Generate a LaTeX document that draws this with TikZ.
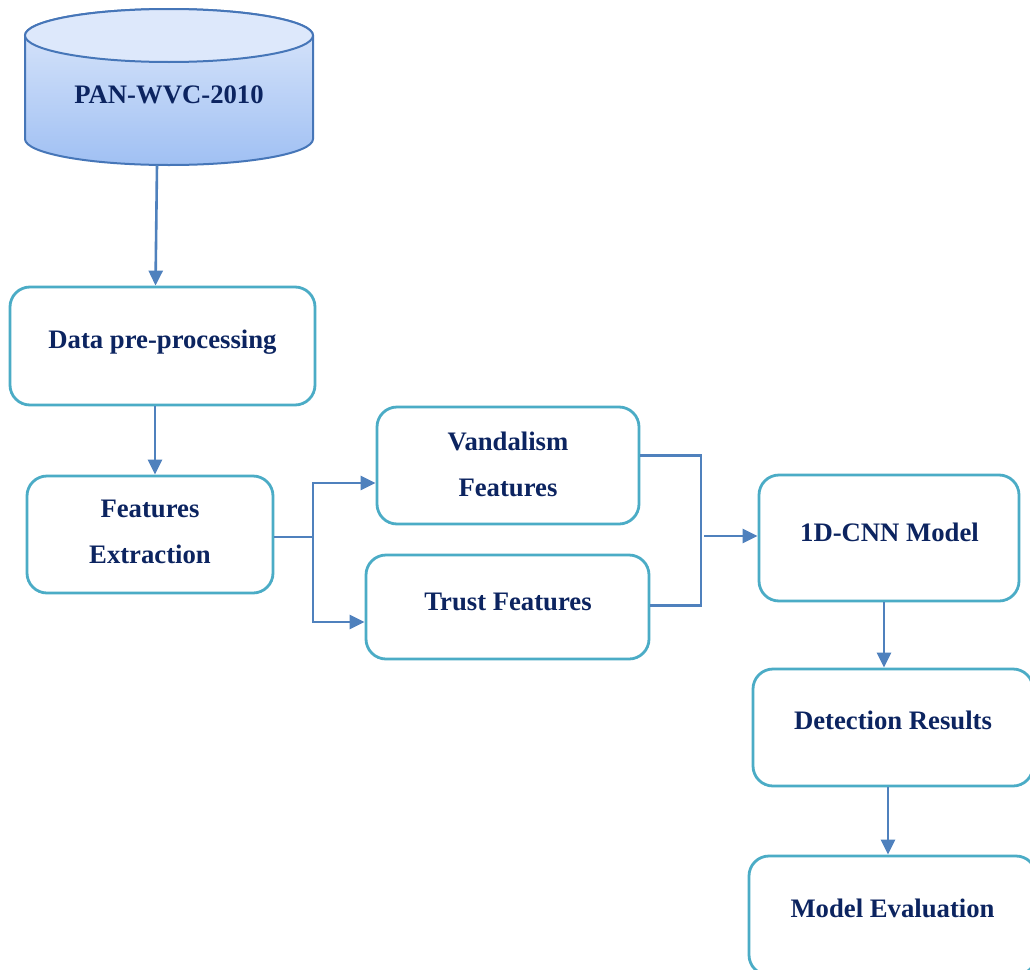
\documentclass[tikz,border=0pt]{standalone}
\usepackage{fontspec}
\setmainfont{Liberation Serif}
\usetikzlibrary{arrows.meta}

\definecolor{boxline}{RGB}{75,172,198}
\definecolor{linkblue}{RGB}{79,129,189}
\definecolor{navytext}{RGB}{12,36,96}
\definecolor{dbline}{RGB}{70,118,184}
\definecolor{dbtop}{RGB}{221,232,251}
\definecolor{dbbottom}{RGB}{160,192,243}

\tikzset{
  stagebox/.style={draw=boxline, line width=2.8pt, rounded corners=20pt,
    fill=white, inner sep=0pt},
  label1/.style={font=\fontsize{26.7}{46}\selectfont\bfseries, text=navytext,
    inner sep=0pt, text height=18.7pt, text depth=6.7pt},
  label2/.style={font=\fontsize{26.7}{46}\selectfont\bfseries, text=navytext,
    inner sep=0pt, align=center},
  link/.style={draw=linkblue, line width=2.6pt},
  flow/.style={link, -{Triangle[length=15pt,width=14pt]}},
}

\begin{document}
\begin{tikzpicture}[x=1pt, y=-1pt]
\clip (0,0) rectangle (1030,969);
\fill[white] (0,0) rectangle (1030,969);

% database cylinder
\shade[top color=dbtop, bottom color=dbbottom, draw=dbline, line width=2pt]
  (25,35.5) -- (25,139) arc[start angle=180, end angle=360, x radius=144pt, y radius=26pt]
  -- (313,35.5) arc[start angle=0, end angle=180, x radius=144pt, y radius=26.5pt] -- cycle;
\draw[dbline, line width=2pt, fill=dbtop]
  (169,35.5) ellipse[x radius=144pt, y radius=26.5pt];
\node[label1] (dbtxt) at (169,97) {PAN-WVC-2010};
\coordinate (dbbase) at (157,165);

% process boxes
\node[stagebox, minimum width=305pt, minimum height=118pt] (dpp) at (162.5,346) {};
\node[label1] (dpptxt) at (162.5,342) {Data pre-processing};

\node[stagebox, minimum width=246pt, minimum height=117pt] (fe) at (150,534.5) {};
\node[label2] (fetxt) at (150,532) {Features\\Extraction};

\node[stagebox, minimum width=262pt, minimum height=117pt] (vf) at (508,465.5) {};
\node[label2] (vftxt) at (508,464) {Vandalism\\Features};

\node[stagebox, minimum width=283pt, minimum height=104pt] (tf) at (507.5,607) {};
\node[label1] (tftxt) at (508,604) {Trust Features};

\node[stagebox, minimum width=260pt, minimum height=126pt] (cnn) at (889,538) {};
\node[label1] (cnntxt) at (889.5,535) {1D-CNN Model};

\node[stagebox, minimum width=280pt, minimum height=117pt] (dr) at (893,727.5) {};
\node[label1] (drtxt) at (893,723) {Detection Results};

\node[stagebox, minimum width=287pt, minimum height=119pt] (me) at (892.5,915.5) {};
\node[label1] (metxt) at (892.5,911) {Model Evaluation};

% connectors
\draw[flow] (dbbase) -- ([xshift=-7pt]dpp.north);
\draw[flow] ([xshift=-7.5pt]dpp.south) -- ([xshift=-7.5pt]dpp.south |- fe.north);

\coordinate (fork) at (313,537);
\draw[link] (fe.east |- fork) -- (fork);
\draw[flow] (fork) |- ([yshift=-17.5pt]vf.west);
\draw[flow] (fork) |- ([yshift=-15pt]tf.west);

\coordinate (merge) at (701,536);
\draw[link] ([yshift=10pt]vf.east) -| (merge) |- ([yshift=1.5pt]tf.east);
\draw[flow] ([xshift=3pt]merge) -- (merge -| cnn.west);

\draw[flow] ([xshift=-5pt]cnn.south) -- ([xshift=-5pt]cnn.south |- dr.north);
\draw[flow] ([xshift=-5pt]dr.south) -- ([xshift=-5pt]dr.south |- me.north);
\end{tikzpicture}
\end{document}
